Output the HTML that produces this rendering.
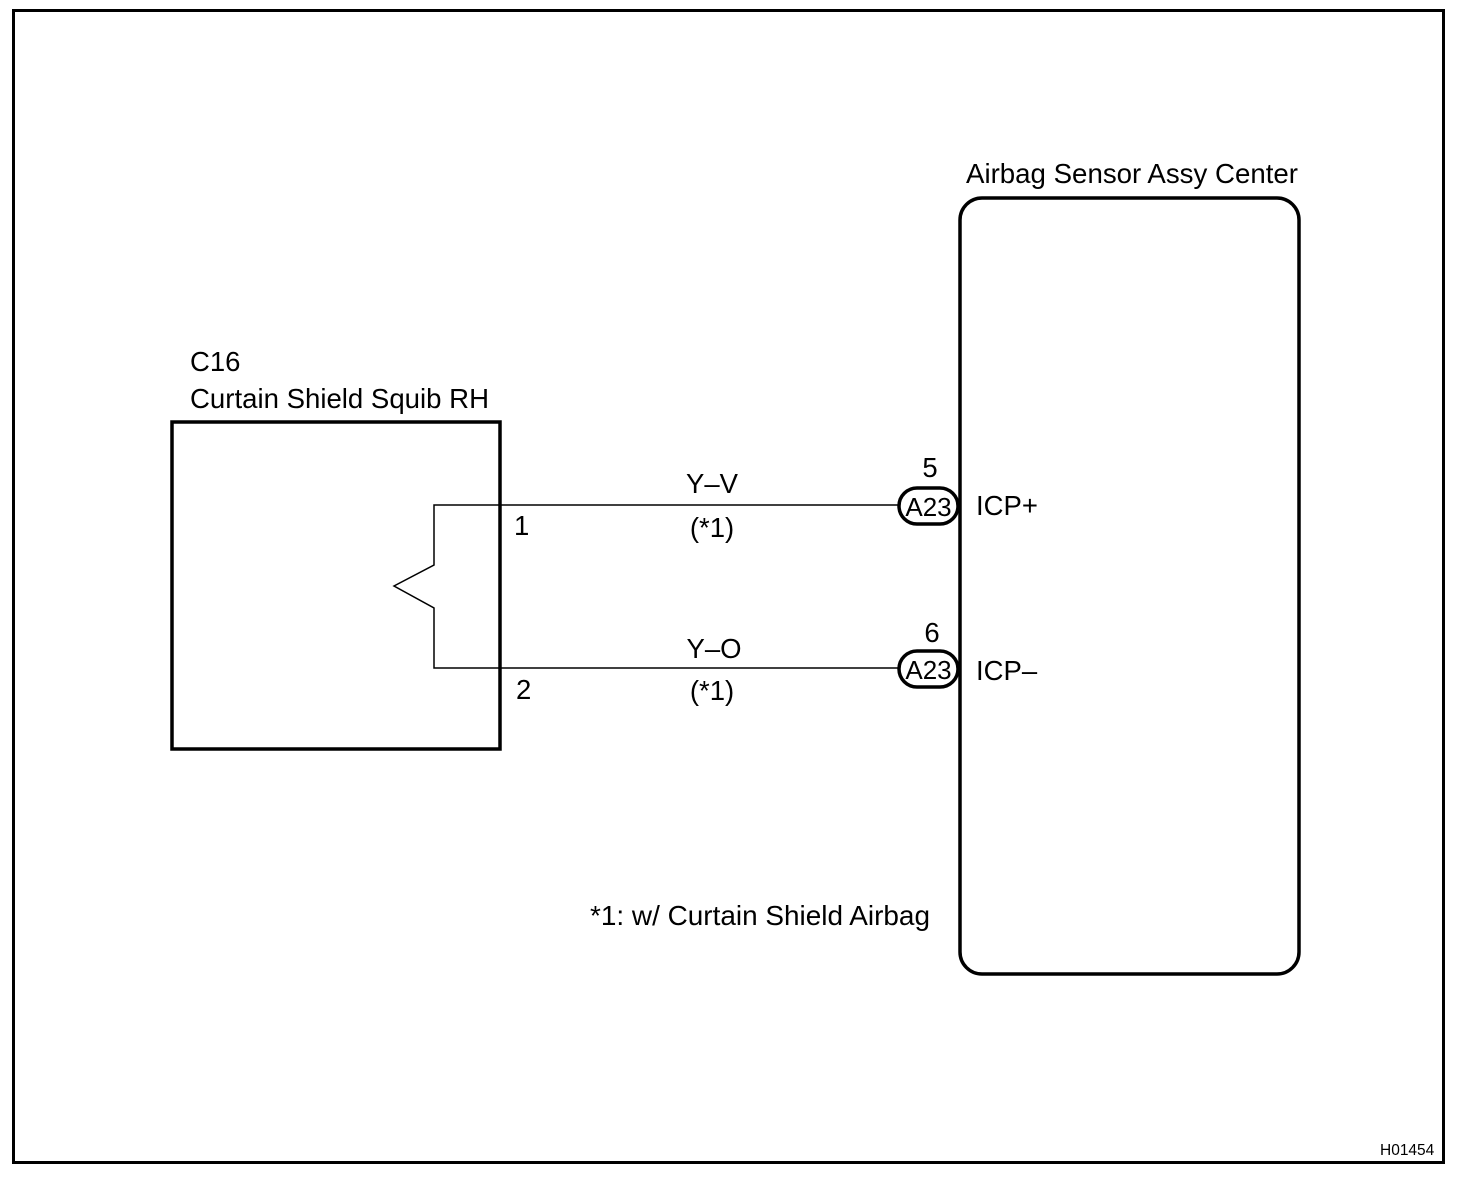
<!DOCTYPE html>
<html><head><meta charset="utf-8"><style>
html,body{margin:0;padding:0;background:#fff}
svg text{font-family:"Liberation Sans",Arial,sans-serif;fill:#000}
</style></head><body>
<svg width="1472" height="1182" viewBox="0 0 1472 1182" xmlns="http://www.w3.org/2000/svg">
<rect x="13.5" y="10.5" width="1430" height="1152" fill="none" stroke="#000" stroke-width="3"/>
<rect x="172" y="422" width="328" height="327" fill="none" stroke="#000" stroke-width="3.5"/>
<rect x="960" y="198" width="339" height="776" rx="22" fill="none" stroke="#000" stroke-width="3.5"/>
<polyline points="898,505 434,505 434,565 394,586 434,608 434,668 898,668" fill="none" stroke="#000" stroke-width="1.5"/>
<rect x="899" y="488" width="59" height="36" rx="18" fill="#fff" stroke="#000" stroke-width="3.5"/>
<rect x="899" y="651" width="59" height="36" rx="18" fill="#fff" stroke="#000" stroke-width="3.5"/>
<g font-size="27.5">
<text x="928.5" y="516" text-anchor="middle" font-size="26">A23</text>
<text x="928.5" y="679" text-anchor="middle" font-size="26">A23</text>
<text x="930" y="477" text-anchor="middle">5</text>
<text x="932" y="642" text-anchor="middle">6</text>
<text x="976" y="515">ICP+</text>
<text x="976" y="680">ICP–</text>
<text x="712" y="493" text-anchor="middle">Y–V</text>
<text x="712" y="537" text-anchor="middle">(*1)</text>
<text x="714" y="658" text-anchor="middle">Y–O</text>
<text x="712" y="700" text-anchor="middle">(*1)</text>
<text x="514" y="535">1</text>
<text x="516" y="699">2</text>
<text x="190" y="371">C16</text>
<text x="190" y="408" textLength="299" lengthAdjust="spacingAndGlyphs">Curtain Shield Squib RH</text>
<text x="966" y="183" textLength="332" lengthAdjust="spacingAndGlyphs">Airbag Sensor Assy Center</text>
<text x="590" y="925" textLength="340" lengthAdjust="spacingAndGlyphs">*1: w/ Curtain Shield Airbag</text>
</g>
<text x="1380" y="1155" font-size="15.5">H01454</text>
</svg>
</body></html>
